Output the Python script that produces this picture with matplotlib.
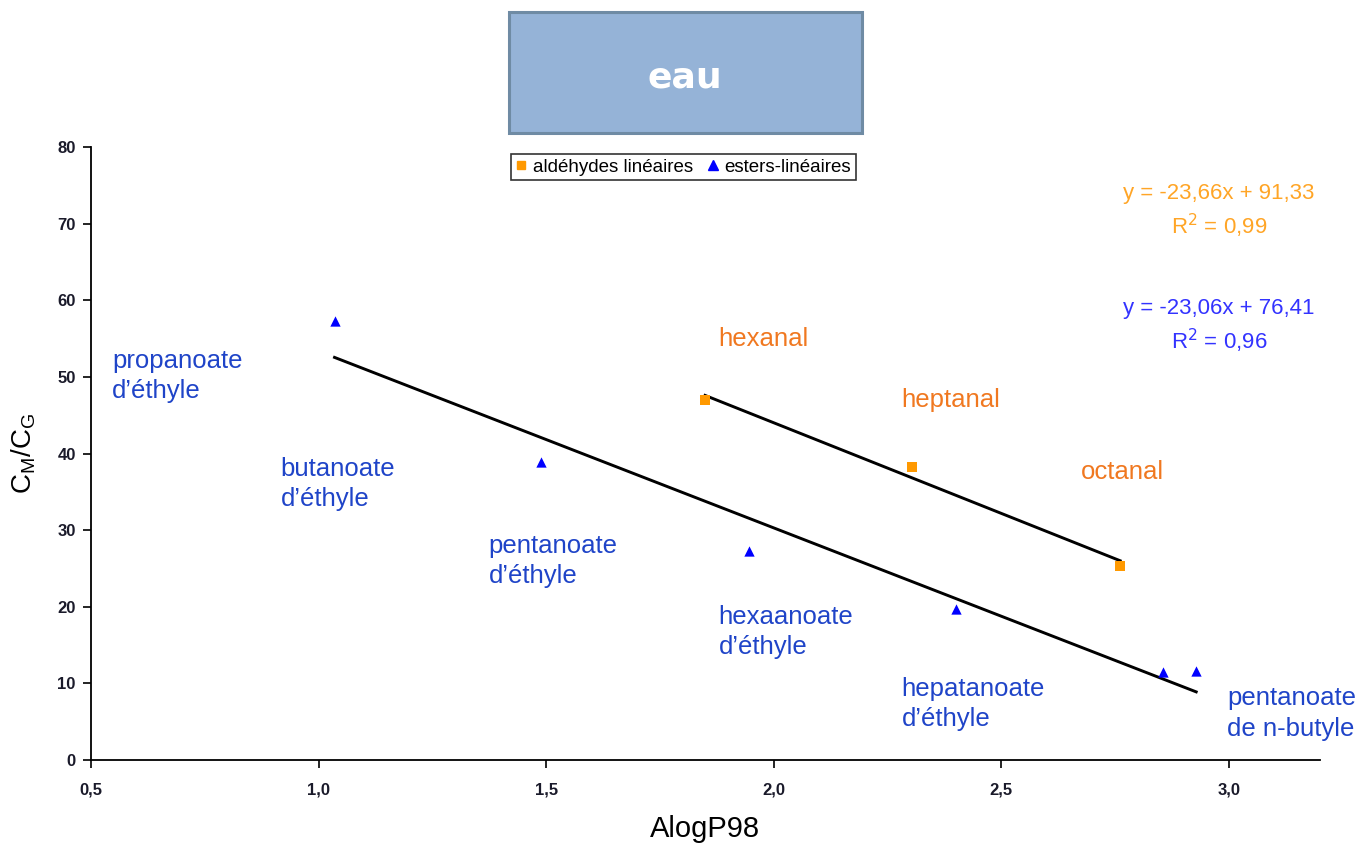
import matplotlib
matplotlib.use("Agg")
import matplotlib.pyplot as plt
from matplotlib.patches import Rectangle
from matplotlib.lines import Line2D
import numpy as np

plt.rcParams['font.family'] = ['Liberation Sans', 'DejaVu Sans']

# Data
ald_x = [1.849, 2.303, 2.761]
ald_y = [47.0, 38.25, 25.3]
ald_names = ["hexanal", "heptanal", "octanal"]

est_x = [1.035, 1.489, 1.945, 2.401, 2.855, 2.928]
est_y = [57.3, 38.9, 27.3, 19.7, 11.5, 11.6]
est_names = ["propanoate\nd\u2019éthyle", "butanoate\nd\u2019éthyle", "pentanoate\nd\u2019éthyle",
             "hexaanoate\nd\u2019éthyle", "hepatanoate\nd\u2019éthyle", "pentanoate\nde n-butyle"]

ald_fit = (-23.66, 91.33)
est_fit = (-23.06, 76.41)
ald_eq = ["y = -23,66x + 91,33", "R$^2$ = 0,99"]
est_eq = ["y = -23,06x + 76,41", "R$^2$ = 0,96"]

xticks = [0.5, 1.0, 1.5, 2.0, 2.5, 3.0]
yticks = [0, 10, 20, 30, 40, 50, 60, 70, 80]

# Label positions (left, top) in data coords
ald_label_pos = [(1.879, 55.0), (2.281, 47.0), (2.675, 37.6)]
est_label_pos = [(0.546, 53.6), (0.917, 39.5), (1.373, 29.5), (1.879, 20.2), (2.281, 10.8), (2.996, 9.6)]

W, H = 1364, 843
fig = plt.figure(figsize=(W/100, H/100), dpi=100)
ax = fig.add_axes([91/W, 1-760/H, (1320-91)/W, (760-147)/H])

ORANGE_PT = '#FF9900'
BLUE_PT = '#0000FF'
ORANGE_TXT = '#F07820'
BLUE_TXT = '#1F44C8'
ORANGE_EQ = '#FFA526'
BLUE_EQ = '#3333FF'

# trend lines
xa = np.array([min(ald_x), max(ald_x)])
ax.plot(xa, ald_fit[0]*xa + ald_fit[1], color='black', lw=2.1, zorder=2)
xe = np.array([min(est_x), max(est_x)])
ax.plot(xe, est_fit[0]*xe + est_fit[1], color='black', lw=2.1, zorder=2)

ax.scatter(ald_x, ald_y, marker='s', s=42, color=ORANGE_PT, zorder=3, linewidths=0)
ax.scatter(est_x, est_y, marker='^', s=55, color=BLUE_PT, zorder=3, linewidths=0)

for name, (lx, ly) in zip(ald_names, ald_label_pos):
    ax.text(lx, ly, name, color=ORANGE_TXT, fontsize=18.5, ha='left', va='center')
for name, (lx, ly) in zip(est_names, est_label_pos):
    ax.text(lx, ly, name, color=BLUE_TXT, fontsize=18.5, ha='left', va='top', linespacing=1.32)

# equations
ax.text(2.978, 73.9, ald_eq[0], color=ORANGE_EQ, fontsize=16, ha='center', va='center')
ax.text(2.978, 69.7, ald_eq[1], color=ORANGE_EQ, fontsize=16, ha='center', va='center')
ax.text(2.978, 58.9, est_eq[0], color=BLUE_EQ, fontsize=16, ha='center', va='center')
ax.text(2.978, 54.7, est_eq[1], color=BLUE_EQ, fontsize=16, ha='center', va='center')

ax.set_xlim(0.5, 3.2)
ax.set_ylim(0, 80)
ax.set_xticks(xticks)
ax.set_yticks(yticks)
ax.set_xticklabels([f"{v:.1f}".replace('.', ',') for v in xticks])
ax.set_yticklabels([str(v) for v in yticks])
for lab in ax.get_xticklabels() + ax.get_yticklabels():
    lab.set_fontweight('bold')
    lab.set_color('#1a1a2a')
    lab.set_fontsize(12)
ax.tick_params(axis='both', direction='out', length=6, width=1.2, color='black')
ax.tick_params(axis='x', pad=10)
ax.tick_params(axis='y', pad=5)
for s in ['top', 'right']:
    ax.spines[s].set_visible(False)
for s in ['left', 'bottom']:
    ax.spines[s].set_linewidth(1.3)

ax.set_xlabel("AlogP98", fontsize=21, labelpad=13)
ax.set_ylabel("C$_\\mathregular{M}$/C$_\\mathregular{G}$", fontsize=20, labelpad=14)

# title box
fig.patches.append(Rectangle((509/W, 1-133/H), (862-509)/W, (133-12)/H, transform=fig.transFigure,
                             facecolor='#95B3D7', edgecolor='#6F8BA4', lw=2.2, zorder=0))
fig.text(685/W, 1-77/H, "eau", color='white', fontsize=26, fontweight='bold',
         family=['DejaVu Sans'], ha='center', va='center')

# legend
handles = [Line2D([], [], marker='s', color=ORANGE_PT, ls='none', markersize=6),
           Line2D([], [], marker='^', color=BLUE_PT, ls='none', markersize=7)]
leg = fig.legend(handles, ["aldéhydes linéaires", "esters-linéaires"], loc='center',
                 bbox_to_anchor=(683.5/W, 1-167/H), ncol=2, fontsize=13.5, frameon=True,
                 fancybox=False, edgecolor='black', handlelength=0.6, handletextpad=0.3,
                 columnspacing=0.8, borderpad=0.25, borderaxespad=0)
leg.get_frame().set_linewidth(1.2)

fig.savefig("out.png", dpi=100)
